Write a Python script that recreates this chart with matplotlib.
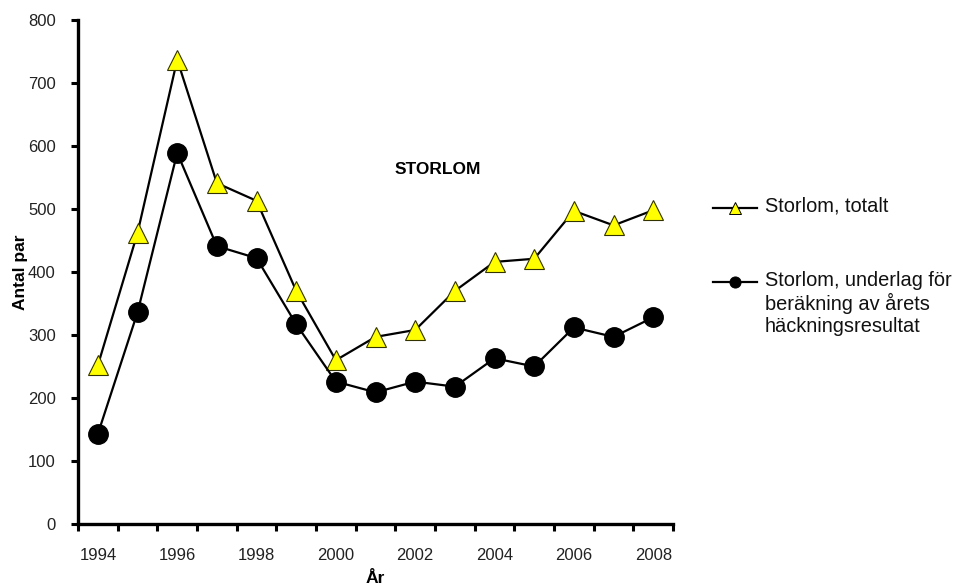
import matplotlib.pyplot as plt
from matplotlib.lines import Line2D
import numpy as np

plt.rcParams['font.family'] = ['Liberation Sans', 'DejaVu Sans']

years = list(range(1994, 2009))
totalt = [252, 462, 737, 541, 513, 370, 260, 297, 308, 370, 416, 421, 497, 474, 498]
underlag = [143, 336, 589, 441, 422, 317, 226, 209, 226, 218, 263, 250, 312, 297, 328]

label_totalt = "Storlom, totalt"
label_underlag = "Storlom, underlag för\nberäkning av årets\nhäckningsresultat"

fig = plt.figure(figsize=(9.6, 5.87), dpi=100)
ax = fig.add_axes([0.0813, 0.1073, 0.6198, 0.8587])

x = np.arange(len(years))
ax.plot(x, totalt, color='black', lw=1.6, marker='^', ms=15,
        mfc='#FFFF00', mec='#333300', mew=0.8, zorder=3)
ax.plot(x, underlag, color='black', lw=1.6, marker='o', ms=14,
        mfc='black', mec='black', zorder=3)

ax.set_xlim(-0.5, len(years) - 0.5)
ax.set_ylim(0, 800)
ax.set_yticks(np.arange(0, 801, 100))

# category boundaries carry the tick marks, labels sit on every other year
ax.set_xticks(np.arange(-0.5, len(years), 1.0))
ax.set_xticklabels([])
ax.set_xticks(x[::2], minor=True)
ax.set_xticklabels([str(y) for y in years[::2]], minor=True)
ax.tick_params(axis='x', which='major', direction='out', length=5, width=2.2)
ax.tick_params(axis='x', which='minor', length=0, pad=17, labelsize=12, labelcolor='#222222')
ax.tick_params(axis='y', direction='out', length=5, width=2.2, pad=11,
               labelsize=12, labelcolor='#222222')

for side in ['top', 'right']:
    ax.spines[side].set_visible(False)
for side in ['left', 'bottom']:
    ax.spines[side].set_linewidth(2.4)

ax.set_ylabel("Antal par", fontsize=12.5, fontweight='bold', labelpad=0)
ax.set_xlabel("År", fontsize=12.5, fontweight='bold', labelpad=6)

ax.text(7.48, 562, "STORLOM", fontsize=12.5, fontweight='bold', ha='left', va='center')

# legend drawn beside the axes
for ypos, mk, fc, lab in [(0.6457, '^', '#FFFF00', label_totalt),
                          (0.5196, 'o', 'black', label_underlag)]:
    fig.add_artist(Line2D([0.743, 0.789], [ypos, ypos], transform=fig.transFigure,
                          color='black', lw=1.6))
    fig.add_artist(Line2D([0.766], [ypos], transform=fig.transFigure, marker=mk,
                          ms=8, mfc=fc, mec='black', mew=0.7, color='black'))
    fig.text(0.797, ypos + 0.019, lab, fontsize=14.4, ha='left', va='top',
             linespacing=1.2, color='#111111')

fig.savefig("out.png", dpi=100)
